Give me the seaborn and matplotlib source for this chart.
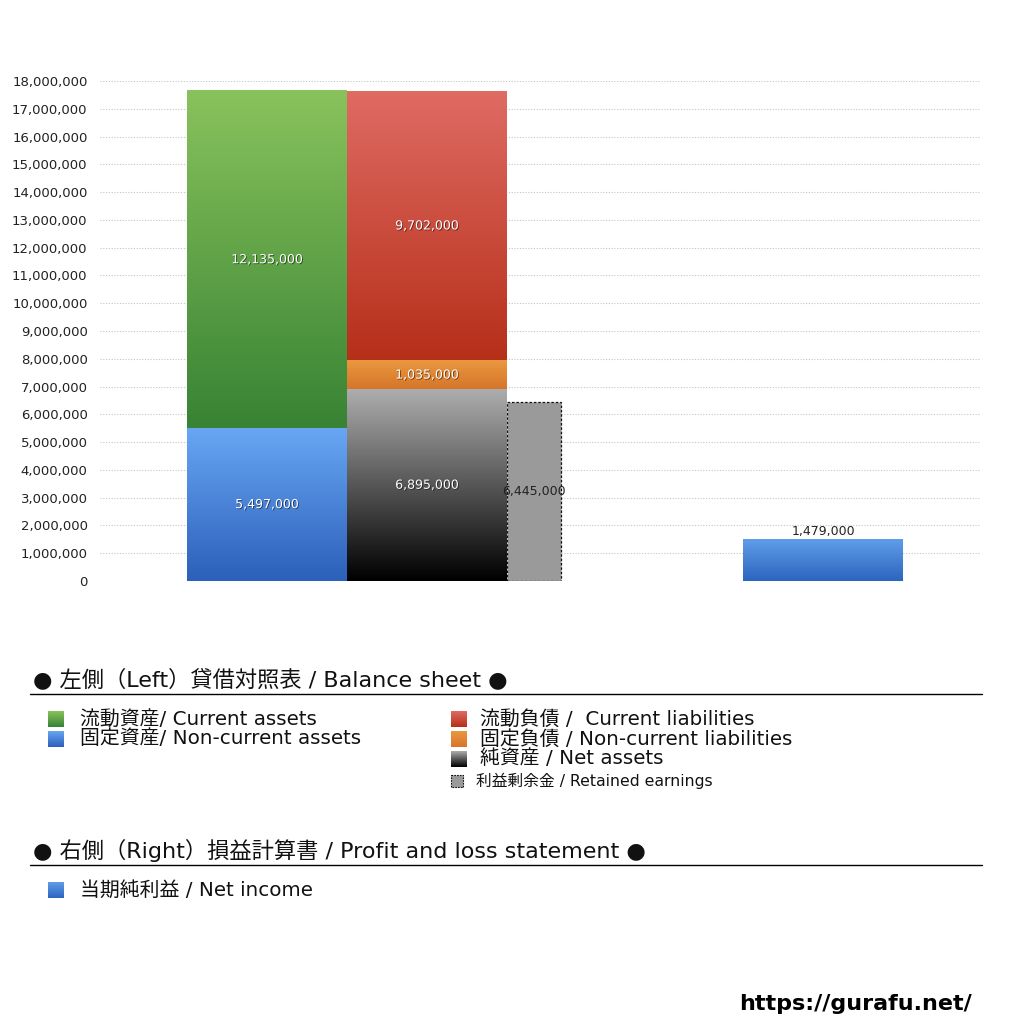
import numpy as np
import matplotlib
matplotlib.use("Agg")
import matplotlib.pyplot as plt
import matplotlib.patheffects as pe
from matplotlib.colors import LinearSegmentedColormap
from matplotlib.ticker import FuncFormatter, MultipleLocator
import seaborn as sns

# 左側 貸借対照表 (上から下の順)
asset_names = ["流動資産", "固定資産"]
asset_values = [12135000, 5497000]
liab_names = ["流動負債", "固定負債", "純資産"]
liab_values = [9702000, 1035000, 6895000]
retained_name = "利益剰余金"
retained_value = 6445000
# 右側 損益計算書
pl_name = "当期純利益"
pl_value = 1479000

legend_left = ["流動資産/ Current assets", "固定資産/ Non-current assets"]
legend_right = ["流動負債 /  Current liabilities", "固定負債 / Non-current liabilities",
                "純資産 / Net assets"]
legend_retained = "利益剰余金 / Retained earnings"
legend_pl = "当期純利益 / Net income"
title_bs = "● 左側（Left）貸借対照表 / Balance sheet ●"
title_pl = "● 右側（Right）損益計算書 / Profit and loss statement ●"

# gradient colours (top, bottom)
grad = {
    "流動資産": ("#89c25c", "#388334"),
    "固定資産": ("#68a6f3", "#2c60ba"),
    "流動負債": ("#df6b63", "#b62f19"),
    "固定負債": ("#ea983f", "#d6752a"),
    "純資産": ("#adadad", "#000000"),
    "当期純利益": ("#609de9", "#2c65bf"),
}

# column layout (x centre, width)
col_left = (0.0, 1.0)
col_right = (1.0, 1.0)
col_retained = (1.669, 0.3375)
col_pl = (3.475, 1.0)


def stack(names, values, col):
    segs = []
    bottom = 0
    for n, v in zip(names[::-1], values[::-1]):
        segs.append((n, col, bottom, bottom + v))
        bottom += v
    return segs


segments = stack(asset_names, asset_values, col_left) + stack(liab_names, liab_values, col_right)
segments += [(retained_name, col_retained, 0, retained_value), (pl_name, col_pl, 0, pl_value)]

sns.set_theme(style="white")
plt.rcParams["font.family"] = ["DejaVu Sans", "Noto Sans CJK JP"]

fig = plt.figure(figsize=(10.24, 10.24), dpi=100)
ax = fig.add_axes([100 / 1024, 1 - 581 / 1024, 880 / 1024, 500 / 1024])


def ramp(top, bottom):
    cm = LinearSegmentedColormap.from_list("g", [top, bottom])
    return np.linspace(0, 1, 200).reshape(-1, 1), cm


# tallest first so the lower segments sit on top (overlap stacking)
for name, (xc, w), bottom, top in sorted(segments, key=lambda s: -s[3]):
    if name == retained_name:
        sns.barplot(x=[xc], y=[top], native_scale=True, orient="x", width=w, color="#9a9a9a",
                    errorbar=None, saturation=1, ax=ax, zorder=2)
        p = ax.patches[-1]
        p.set_edgecolor("#111111")
        p.set_linewidth(0.9)
        p.set_linestyle((0, (2, 1.5)))
        ax.text(xc, (bottom + top) / 2, f"{top - bottom:,}", ha="center", va="center",
                fontsize=9, color="#222222", zorder=5)
        continue
    sns.barplot(x=[xc], y=[top], native_scale=True, orient="x", width=w, color=grad[name][1],
                errorbar=None, saturation=1, linewidth=0, ax=ax, zorder=2)
    p = ax.patches[-1]
    p.set_visible(False)
    arr, cm = ramp(*grad[name])
    ax.imshow(arr, cmap=cm, extent=(p.get_x(), p.get_x() + p.get_width(), bottom, top),
              aspect="auto", origin="upper", zorder=3, interpolation="bilinear")
    if name == pl_name:
        ax.text(xc, top + 60000, f"{top - bottom:,}", ha="center", va="bottom",
                fontsize=9, color="#222222", zorder=5)
    else:
        ax.text(xc, (bottom + top) / 2, f"{top - bottom:,}", ha="center", va="center",
                fontsize=9, color="white", zorder=5,
                path_effects=[pe.withSimplePatchShadow(offset=(0.6, -0.6),
                                                       shadow_rgbFace="black", alpha=0.55)])

ax.set_xlim(-1.044, 4.456)
ax.set_ylim(0, 18000000)
ax.yaxis.set_major_locator(MultipleLocator(1000000))
ax.yaxis.set_major_formatter(FuncFormatter(lambda v, _: f"{int(v):,}"))
ax.yaxis.grid(True, linestyle=(0, (1, 1.5)), color="#c4c4c4", linewidth=0.8)
ax.set_axisbelow(True)
ax.set_xticks([])
ax.set_xlabel("")
ax.set_ylabel("")
ax.tick_params(axis="y", length=0, pad=9, labelsize=9.5, labelcolor="#222222")
for s in ax.spines.values():
    s.set_visible(False)

# legend / notes area in pixel coordinates
ov = fig.add_axes([0, 0, 1, 1])
ov.patch.set_visible(False)
ov.axis("off")


def swatch(name, x, y, size=16):
    arr, cm = ramp(*grad[name])
    ov.imshow(arr, cmap=cm, extent=(x, x + size, y + size / 2, y - size / 2),
              aspect="auto", origin="upper", interpolation="bilinear")


ov.text(33, 679, title_bs, fontsize=16, va="center", ha="left", color="#111111")
ov.plot([30, 982], [694, 694], color="black", lw=1)
for i, (lab, name) in enumerate(zip(legend_left, asset_names)):
    y = 719 + 20 * i
    swatch(name, 48, y)
    ov.text(80, y, lab, fontsize=14.3, va="center", ha="left", color="#111111")
for i, (lab, name) in enumerate(zip(legend_right, liab_names)):
    y = 719 + 20 * i
    swatch(name, 451, y)
    ov.text(480, y, lab, fontsize=14.3, va="center", ha="left", color="#111111")
ov.add_patch(plt.Rectangle((451, 775), 12, 12, facecolor="#9a9a9a", edgecolor="#111111",
                           lw=0.8, ls=(0, (1.5, 1))))
ov.text(476, 781, legend_retained, fontsize=11.3, va="center", ha="left", color="#111111")

ov.text(33, 850, title_pl, fontsize=16, va="center", ha="left", color="#111111")
ov.plot([30, 982], [865, 865], color="black", lw=1)
swatch(pl_name, 48, 890)
ov.text(80, 890, legend_pl, fontsize=14.3, va="center", ha="left", color="#111111")

ov.text(972, 1004, "https://gurafu.net/", fontsize=16, fontweight="bold", va="center",
        ha="right", color="black")
ov.set_xlim(0, 1024)
ov.set_ylim(1024, 0)

fig.savefig("out.png", dpi=100, facecolor="white")
